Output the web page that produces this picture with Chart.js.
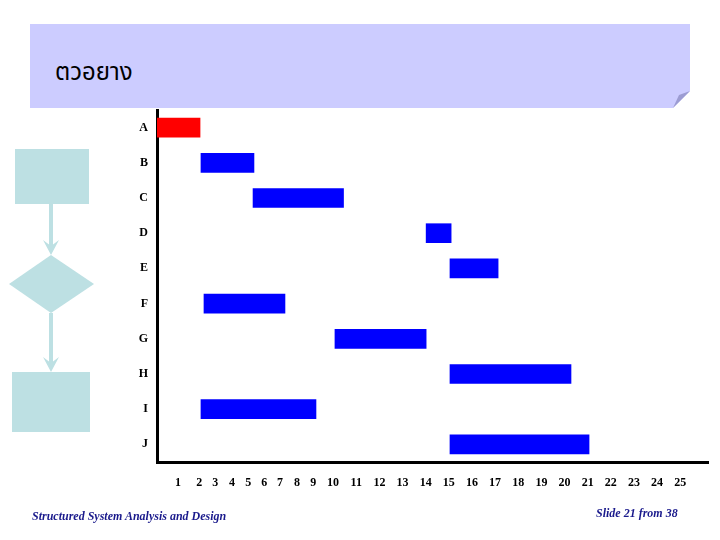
<!DOCTYPE html>
<html lang="th">
<head>
  <meta charset="UTF-8" />
  <title>ตวอยาง</title>
  <script src="https://cdn.jsdelivr.net/npm/chart.js"></script>
  <style>
    html, body {
      margin: 0;
      padding: 0;
      background: #fff;
    }

    #slide {
      position: relative;
      width: 720px;
      height: 540px;
      overflow: hidden;
    }

    #deco {
      position: absolute;
      left: 0; top: 0;
    }

    #title {
      position: absolute;
      left: 55px;
      top: 55px;
      font-family: 'Noto Sans Thai', 'Loma', 'Garuda', 'Norasi', 'DejaVu Sans', sans-serif;
      font-size: 24px;
      color: #000;
    }

    #chartBox {
      position: absolute;
      left: 0; top: 0;
      width: 720px;
      height: 540px;
    }

    .foot {
      position: absolute;
      font-family: 'Liberation Serif', 'Times New Roman', serif;
      font-style: italic;
      font-weight: bold;
      font-size: 12px;
      color: #1a1a8c;
      white-space: nowrap;
    }
  </style>
</head>
<body>

<div id="slide">
  <svg id="deco" width="720" height="540">
    <!-- title banner with folded corner -->
    <polygon points="30,24 690,24 690,91 673,108 30,108" fill="#ccccff"/>
    <polygon points="673,108 690,91 679,95" fill="#9c9cd2"/>

    <!-- flowchart decoration on the left -->
    <g fill="#bde0e3" stroke="none">
      <rect x="15" y="149" width="74" height="55"/>
      <rect x="49" y="204" width="4" height="44"/>
      <polygon points="43,240 51,255 59,240 51,246"/>
      <polygon points="51,255 94,284 51,313 9,284"/>
      <rect x="49" y="313" width="4" height="52"/>
      <polygon points="43,357 51,372 59,357 51,363"/>
      <rect x="12" y="372" width="78" height="60"/>
    </g>
  </svg>

  <div id="title">ตวอยาง</div>

  <div id="chartBox"><canvas id="gantt" width="720" height="540"></canvas></div>

  <div class="foot" style="left:32px; top:509px;">Structured System Analysis and Design</div>
  <div class="foot" style="left:596px; top:506px;">Slide 21 from 38</div>
</div>

<script>
  // tasks and their start / end on the time axis
  const tasks = ['A', 'B', 'C', 'D', 'E', 'F', 'G', 'H', 'I', 'J'];
  const startAt = [2.39, 4.29, 6.54, 14.02, 15.05, 4.42, 10.08, 15.05, 4.29, 15.05];
  const endAt = [4.25, 6.58, 10.45, 15.1, 17.13, 7.92, 14.02, 20.28, 9.26, 21.06];

  // numbers written under the axis, and where they sit on it
  const tickLabels = ['1', '2', '3', '4', '5', '6', '7', '8', '9', '10', '11', '12', '13',
    '14', '15', '16', '17', '18', '19', '20', '21', '22', '23', '24', '25'];
  const tickValues = [3.30, 4.22, 4.91, 5.63, 6.33, 7.02, 7.71, 8.44, 9.14, 10, 11, 12, 13,
    14, 15, 16, 17, 18, 19, 20, 21, 22, 23, 24, 25];

  const labelFont = { family: "'Liberation Serif', 'Times New Roman', serif", size: 12, weight: 'bold' };

  new Chart(document.getElementById('gantt'), {
    type: 'bar',
    data: {
      labels: tasks,
      datasets: [{
        data: tasks.map((t, i) => [startAt[i], endAt[i]]),
        backgroundColor: ctx => ctx.dataIndex === 0 ? '#ff0000' : '#0000ff',
        borderWidth: 0,
        borderSkipped: false,
        barThickness: 19
      }]
    },
    options: {
      indexAxis: 'y',
      responsive: false,
      animation: false,
      events: [],
      layout: {
        padding: { top: 110, left: 133, right: 12, bottom: 48 }
      },
      plugins: {
        legend: { display: false },
        tooltip: { enabled: false }
      },
      scales: {
        x: {
          type: 'linear',
          min: 2.39,
          max: 26.2,
          grid: { display: false, drawTicks: false },
          border: { display: true, color: '#000', width: 3 },
          afterBuildTicks: scale => {
            scale.ticks = tickValues.map(v => ({ value: v }));
          },
          afterFit: scale => { scale.height = 30; },
          ticks: {
            autoSkip: false,
            maxRotation: 0,
            padding: 14,
            color: '#000',
            font: labelFont,
            callback: (value, index) => tickLabels[index]
          }
        },
        y: {
          grid: { display: false, drawTicks: false },
          border: { display: true, color: '#000', width: 3 },
          afterFit: scale => { scale.width = 24; },
          ticks: {
            padding: 9,
            color: '#000',
            font: labelFont
          }
        }
      }
    }
  });
</script>

</body>
</html>
